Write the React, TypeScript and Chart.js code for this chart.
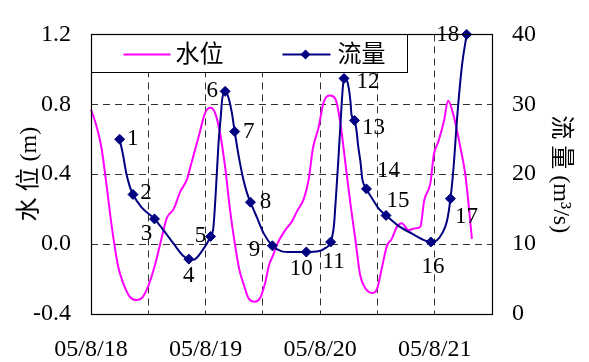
import React, { useEffect, useRef } from 'react';
import { Chart, registerables } from 'chart.js';

Chart.register(...registerables);

// ---- data ----
const dayLabels = ['05/8/18', '05/8/19', '05/8/20', '05/8/21'];

// water level (m), hours from 05/8/18 00:00
const levelHours = [0, 1.1, 2.2, 3.2, 4.3, 5.7, 6.7, 8.1, 9.5, 10.6, 12.0, 13.4, 14.4, 15.9, 17.3, 18.7, 20.1, 21.1, 22.5, 23.9, 25.0, 26.0, 27.0, 28.1, 29.1, 30.2, 31.1, 32.1, 33.0, 34.2, 35.4, 36.5, 37.3, 38.2, 39.0, 40.7, 42.1, 43.2, 44.6, 45.6, 46.5, 47.7, 48.7, 50.1, 51.2, 52.2, 53.3, 54.3, 55.4, 56.4, 57.4, 58.9, 60.0, 60.9, 62.0, 63.0, 64.1, 65.1, 66.5, 67.9, 69.0, 69.8, 71.1, 71.8, 72.8, 73.9, 74.8, 76.0, 77.4, 78.4, 79.8];
const levelValues = [0.77, 0.68, 0.55, 0.35, 0.11, -0.13, -0.22, -0.30, -0.32, -0.31, -0.24, -0.12, -0.01, 0.15, 0.20, 0.30, 0.37, 0.47, 0.61, 0.75, 0.78, 0.75, 0.64, 0.44, 0.20, -0.01, -0.15, -0.24, -0.31, -0.33, -0.31, -0.22, -0.12, -0.06, 0.00, 0.08, 0.13, 0.19, 0.26, 0.37, 0.55, 0.67, 0.81, 0.85, 0.83, 0.70, 0.46, 0.24, 0.02, -0.18, -0.25, -0.28, -0.25, -0.14, -0.01, 0.03, 0.10, 0.12, 0.08, 0.09, 0.10, 0.25, 0.35, 0.51, 0.59, 0.70, 0.82, 0.73, 0.55, 0.40, 0.03];

// discharge (m3/s) trace
const flowHours = [6.0, 6.7, 7.4, 8.1, 8.8, 10.55, 13.3, 14.5, 17.25, 19.35, 20.5, 21.45, 23.2, 25.05, 25.64, 26.21, 26.69, 27.19, 27.46, 28.1, 28.78, 29.5, 30.1, 30.88, 31.93, 32.64, 33.4, 34.8, 36.21, 38.0, 39.83, 41.93, 45.1, 47.65, 49.06, 50.2, 50.88, 51.22, 51.78, 52.26, 52.77, 53.0, 53.67, 54.36, 54.57, 55.2, 55.62, 55.97, 56.46, 56.81, 57.7, 58.91, 60.23, 61.8, 64.42, 67.23, 70.02, 71.2, 72.47, 73.52, 74.57, 75.3, 75.95, 76.67, 77.72, 78.7];
const flowValues = [25.0, 22.8, 20.1, 18.3, 17.1, 15.3, 13.6, 12.6, 10.1, 8.3, 7.85, 7.75, 8.97, 11.1, 12.4, 18.3, 24.2, 28.3, 30.6, 31.85, 31.0, 28.8, 26.1, 22.8, 19.2, 17.4, 16.0, 13.75, 11.5, 9.76, 9.0, 8.87, 8.87, 8.97, 9.42, 10.3, 12.6, 15.8, 21.7, 27.2, 32.6, 33.7, 33.3, 30.35, 28.5, 27.7, 26.25, 24.0, 21.7, 19.4, 17.9, 16.5, 15.1, 14.1, 12.6, 11.5, 10.5, 10.3, 10.55, 11.5, 13.3, 16.5, 21.0, 27.85, 35.6, 40.0];

// sampled points (markers)
const sampleHours = [6.0, 8.8, 13.3, 20.5, 25.05, 28.1, 30.1, 33.4, 38.0, 45.1, 50.2, 53.0, 55.2, 57.7, 61.8, 71.2, 75.3, 78.7];
const sampleFlows = [25.0, 17.1, 13.6, 7.85, 11.1, 31.85, 26.1, 16.0, 9.76, 8.87, 10.3, 33.7, 27.7, 17.9, 14.1, 10.3, 16.5, 40.0];
const sampleLabels = ['1', '2', '3', '4', '5', '6', '7', '8', '9', '10', '11', '12', '13', '14', '15', '16', '17', '18'];

const levelName = '水位';
const flowName = '流量';
const leftTitle = '水 位 (m)';
const rightTitle = '流 量 (m³/s)';

// ---- styling ----
const MAGENTA = '#FF00FF';
const NAVY = '#000080';
const GRID = '#333';
const FONT = '"Liberation Serif", "Times New Roman", "Noto Sans CJK SC", serif';
const labelOffsets: [number, number][] = [
  [13, 0], [13, -2], [-8, 15], [0, 17], [-10, 0], [-13, 0], [14, 0], [15, 0], [-18, 4],
  [-5, 17], [3, 20], [24, 4], [19, 8], [22, -18], [12, -14], [2, 25], [16, 18], [-19, 1],
];

const pointLabelPlugin = {
  id: 'pointLabels',
  afterDatasetsDraw(chart: any) {
    const meta = chart.getDatasetMeta(0);
    const ctx = chart.ctx;
    ctx.save();
    ctx.font = `23px ${FONT}`;
    ctx.fillStyle = '#000';
    ctx.textAlign = 'center';
    ctx.textBaseline = 'middle';
    meta.data.forEach((pt: any, i: number) => {
      const [dx, dy] = labelOffsets[i] || [0, 0];
      ctx.fillText(sampleLabels[i], pt.x + dx, pt.y + dy);
    });
    ctx.restore();
  },
};

const legendPlugin = {
  id: 'boxLegend',
  afterDatasetsDraw(chart: any) {
    const { ctx, chartArea: a } = chart;
    const x0 = Math.round(a.left) + 0.5;
    const y0 = Math.round(a.top) + 0.5;
    const w = 316;
    const h = 38;
    const cy = y0 + 20;
    ctx.save();
    ctx.fillStyle = '#fff';
    ctx.fillRect(x0, y0, w, h);
    ctx.strokeStyle = '#000';
    ctx.lineWidth = 1;
    ctx.strokeRect(x0, y0, w, h);
    ctx.strokeStyle = MAGENTA;
    ctx.lineWidth = 2;
    ctx.beginPath();
    ctx.moveTo(x0 + 32, cy);
    ctx.lineTo(x0 + 79, cy);
    ctx.stroke();
    ctx.strokeStyle = NAVY;
    ctx.beginPath();
    ctx.moveTo(x0 + 191, cy);
    ctx.lineTo(x0 + 239, cy);
    ctx.stroke();
    ctx.fillStyle = NAVY;
    const dx = x0 + 214;
    ctx.beginPath();
    ctx.moveTo(dx, cy - 5);
    ctx.lineTo(dx + 5, cy);
    ctx.lineTo(dx, cy + 5);
    ctx.lineTo(dx - 5, cy);
    ctx.closePath();
    ctx.fill();
    ctx.fillStyle = '#000';
    ctx.font = `24px ${FONT}`;
    ctx.textAlign = 'left';
    ctx.textBaseline = 'middle';
    ctx.fillText(levelName, x0 + 84, cy + 1);
    ctx.fillText(flowName, x0 + 246, cy + 1);
    ctx.restore();
  },
};

const framePlugin = {
  id: 'frame',
  afterDraw(chart: any) {
    const { ctx, chartArea: a } = chart;
    ctx.save();
    ctx.strokeStyle = '#000';
    ctx.lineWidth = 1.2;
    ctx.strokeRect(Math.round(a.left) + 0.5, Math.round(a.top) + 0.5, Math.round(a.right - a.left), Math.round(a.bottom - a.top));
    ctx.restore();
  },
};

export default function App() {
  const ref = useRef<HTMLCanvasElement | null>(null);

  useEffect(() => {
    document.body.style.margin = '0';
    const canvas = ref.current;
    if (!canvas) return;

    const levelData = levelHours.map((h, i) => ({ x: h, y: levelValues[i] }));
    const flowData = flowHours.map((h, i) => ({ x: h, y: flowValues[i] }));
    const sampleData = sampleHours.map((h, i) => ({ x: h, y: sampleFlows[i] }));

    const gridCommon = { color: GRID, lineWidth: 1, drawTicks: false };
    const tickFont = { family: FONT, size: 24 };

    const chart = new Chart(canvas, {
      type: 'line',
      data: {
        datasets: [
          {
            label: flowName + ' samples',
            data: sampleData,
            yAxisID: 'y1',
            showLine: false,
            pointStyle: 'rectRot',
            pointRadius: 5,
            pointBackgroundColor: NAVY,
            pointBorderColor: NAVY,
            borderColor: NAVY,
            backgroundColor: NAVY,
            clip: false,
          },
          {
            label: flowName,
            data: flowData,
            yAxisID: 'y1',
            borderColor: NAVY,
            borderWidth: 2,
            pointRadius: 0,
            cubicInterpolationMode: 'monotone',
            fill: false,
            clip: false,
          },
          {
            label: levelName,
            data: levelData,
            yAxisID: 'y',
            borderColor: MAGENTA,
            borderWidth: 2,
            pointRadius: 0,
            cubicInterpolationMode: 'monotone',
            fill: false,
            clip: false,
          },
        ],
      },
      options: {
        responsive: false,
        animation: false,
        events: [],
        layout: { padding: { top: 21, left: 0, right: 0, bottom: 0 } },
        plugins: { legend: { display: false }, tooltip: { enabled: false }, title: { display: false } },
        scales: {
          x: {
            type: 'linear',
            min: 0,
            max: 84,
            afterFit: (s: any) => { s.height = 48; },
            grid: { ...gridCommon },
            border: { display: false, dash: [7, 5] },
            ticks: {
              stepSize: 12,
              autoSkip: false,
              maxRotation: 0,
              padding: 21,
              color: '#000',
              font: tickFont,
              callback: (v: any) => (Number(v) % 24 === 0 ? dayLabels[Number(v) / 24] ?? '' : ''),
            },
          },
          y: {
            position: 'left',
            min: -0.4,
            max: 1.2,
            afterFit: (s: any) => { s.width = 91; },
            grid: { ...gridCommon },
            border: { display: false, dash: [7, 5] },
            ticks: {
              stepSize: 0.4,
              padding: 20,
              color: '#000',
              font: tickFont,
              callback: (v: any) => Number(v).toFixed(1),
            },
            title: {
              display: true,
              text: leftTitle,
              color: '#000',
              font: { family: FONT, size: 24 },
              padding: { top: 15, bottom: 0 },
            },
          },
          y1: {
            position: 'right',
            min: 0,
            max: 40,
            afterFit: (s: any) => { s.width = 97; },
            grid: { display: false, drawTicks: false },
            border: { display: false },
            ticks: {
              stepSize: 10,
              padding: 20,
              color: '#000',
              font: tickFont,
            },
            title: {
              display: true,
              text: rightTitle,
              color: '#000',
              font: { family: FONT, size: 24 },
              padding: { top: 14, bottom: 0 },
            },
          },
        },
      },
      plugins: [pointLabelPlugin, legendPlugin, framePlugin],
    } as any);

    return () => chart.destroy();
  }, []);

  return (
    <div style={{ width: 589, height: 362 }}>
      <canvas ref={ref} width={589} height={362} />
    </div>
  );
}
